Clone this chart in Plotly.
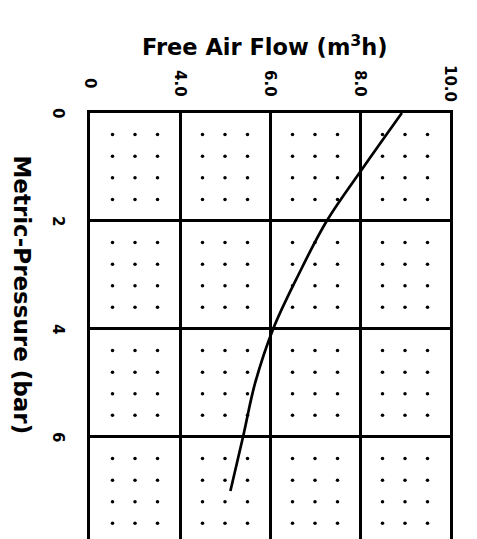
import plotly.graph_objects as go

# Data
pressure_bar = [0, 1, 2, 3, 4, 5, 6, 7]
free_air_flow = [8.93, 8.08, 7.26, 6.63, 6.07, 5.67, 5.40, 5.12]

x_tick_vals = [2, 4, 6, 8, 10]
x_tick_text = ["0", "4.0", "6.0", "8.0", "10.0"]
y_tick_vals = [0, 2, 4, 6]
y_tick_text = ["0", "2", "4", "6"]

FONT = "DejaVu Sans"

# dotted pattern inside each grid cell
dot_x, dot_y = [], []
for i in range(len(x_tick_vals) - 1):
    x0, x1 = x_tick_vals[i], x_tick_vals[i + 1]
    for fx in (0.25, 0.5, 0.75):
        for j in range(4):
            y0 = j * 2
            for fy in (0.2, 0.4, 0.6, 0.8):
                dot_x.append(x0 + fx * (x1 - x0))
                dot_y.append(y0 + fy * 2)

fig = go.Figure()
fig.add_trace(go.Scatter(x=dot_x, y=dot_y, mode="markers",
                         marker=dict(size=3.5, color="black"),
                         hoverinfo="skip", showlegend=False))
fig.add_trace(go.Scatter(x=free_air_flow, y=pressure_bar, mode="lines",
                         line=dict(color="black", width=2.7, shape="spline"),
                         showlegend=False))

annotations = []
# rotated tick labels (top axis)
for v, t in zip(x_tick_vals, x_tick_text):
    annotations.append(dict(text=t, x=v, xref="x", y=1, yref="paper",
                            yshift=30, xanchor="center", yanchor="middle",
                            textangle=90, showarrow=False,
                            font=dict(family=FONT, size=15, weight="bold")))
# rotated tick labels (left axis)
for v, t in zip(y_tick_vals, y_tick_text):
    annotations.append(dict(text=t, x=0, xref="paper", xshift=-32, y=v, yref="y",
                            xanchor="center", yanchor="middle",
                            textangle=90, showarrow=False,
                            font=dict(family=FONT, size=15, weight="bold")))
annotations.append(dict(text="Free Air Flow (m<sup>3</sup>h)", xref="paper", yref="paper",
                        x=0.485, y=1, yshift=68, xanchor="center", yanchor="middle",
                        showarrow=False,
                        font=dict(family=FONT, size=22.5, weight="bold")))
annotations.append(dict(text="Metric-Pressure (bar)", xref="paper", yref="y",
                        x=0, xshift=-68, y=3.36, xanchor="center", yanchor="middle",
                        textangle=90, showarrow=False,
                        font=dict(family=FONT, size=23, weight="bold")))

fig.update_layout(
    width=469, height=531,
    margin=dict(l=82, r=27, t=105, b=0, autoexpand=False),
    paper_bgcolor="white", plot_bgcolor="white",
    font=dict(family=FONT, color="black"),
    xaxis=dict(side="top", range=[2, 10], tickvals=x_tick_vals,
               showticklabels=False, automargin=False,
               showgrid=True, gridcolor="black", gridwidth=3,
               showline=True, linecolor="black", linewidth=3, mirror=False,
               zeroline=False, ticks=""),
    yaxis=dict(range=[7.89, 0], tickvals=y_tick_vals,
               showticklabels=False, automargin=False,
               showgrid=True, gridcolor="black", gridwidth=3,
               showline=True, linecolor="black", linewidth=3, mirror=True,
               zeroline=False, ticks=""),
    annotations=annotations,
)

fig.write_html("out.html")
